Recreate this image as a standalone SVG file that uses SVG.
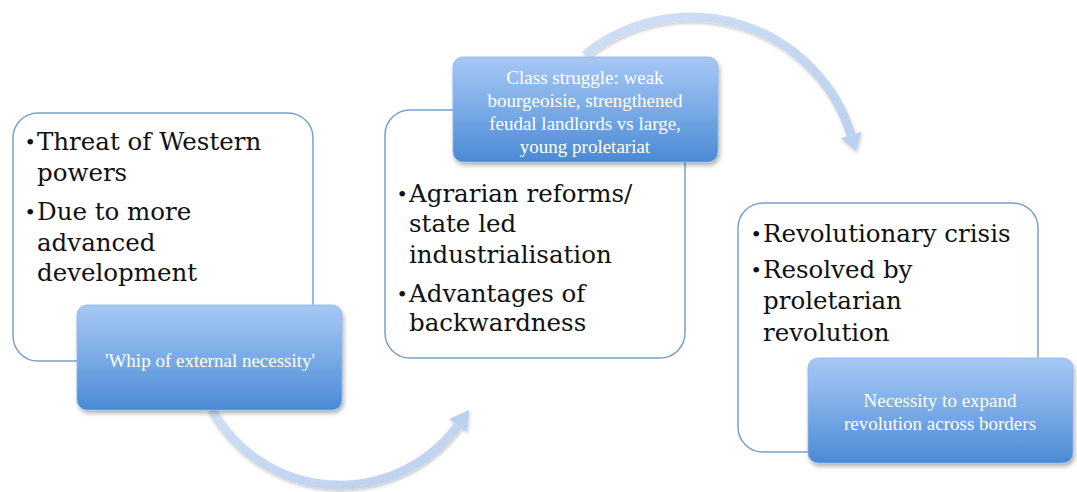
<svg xmlns="http://www.w3.org/2000/svg" width="1077" height="492" viewBox="0 0 1077 492">
<defs>
<linearGradient id="blueGrad" x1="0" y1="0" x2="0" y2="1">
<stop offset="0" stop-color="#a6c8f5"/>
<stop offset="0.5" stop-color="#7aabe7"/>
<stop offset="1" stop-color="#4a8ad4"/>
</linearGradient>
<linearGradient id="arrowGrad" x1="0" y1="0" x2="1" y2="1">
<stop offset="0" stop-color="#cfdff5"/>
<stop offset="1" stop-color="#bcd1ef"/>
</linearGradient>
<filter id="shadow" x="-10%" y="-10%" width="125%" height="135%">
<feDropShadow dx="1.5" dy="3" stdDeviation="2" flood-color="#000" flood-opacity="0.3"/>
</filter>
<filter id="ashadow" x="-10%" y="-10%" width="125%" height="135%">
<feDropShadow dx="1" dy="2" stdDeviation="1.5" flood-color="#000" flood-opacity="0.2"/>
</filter>
</defs>
<style>
.wbox{fill:#ffffff;stroke:#7a9fcc;stroke-width:1.5}
.bbox{fill:url(#blueGrad);stroke:#8db4ea;stroke-width:0.8;filter:url(#shadow)}
.main{font-family:"DejaVu Serif","Liberation Serif",serif;font-size:24.5px;fill:#111111}
.bul{font-family:"Liberation Serif","DejaVu Serif",serif;font-size:24px;fill:#111111}
.lbl{font-family:"Liberation Serif","DejaVu Serif",serif;font-size:19px;fill:#ffffff;text-anchor:middle}
.shaft{fill:none;stroke:url(#arrowGrad);stroke-width:9}
.head{fill:#bcd1ef}
</style>
<rect width="1077" height="492" fill="#ffffff"/>

<g id="connectors" filter="url(#ashadow)">
<path class="shaft" d="M212,410 A146.6,146.6 0 0 0 458,425.5"/>
<polygon class="head" points="449.1,419 469.2,410.1 466.9,432"/>
<path class="shaft" d="M585,55 A167.4,167.4 0 0 1 851,135"/>
<polygon class="head" points="840.5,138.2 861.5,131.8 856,151.2"/>
</g>

<g id="node1">
<rect class="wbox" x="13" y="113" width="300" height="248" rx="25"/>
<text class="bul" x="26" y="150">•</text>
<text class="bul" x="26" y="220">•</text>
<text class="main"><tspan x="37" y="150">Threat of Western</tspan><tspan x="37" y="181">powers</tspan><tspan x="37" y="220">Due to more</tspan><tspan x="37" y="251">advanced</tspan><tspan x="37" y="281">development</tspan></text>
</g>
<g id="label1">
<rect class="bbox" x="77" y="305" width="265" height="105" rx="10"/>
<text class="lbl" x="210" y="367">'Whip of external necessity'</text>
</g>

<g id="node2">
<rect class="wbox" x="385" y="110" width="300" height="248" rx="25"/>
<text class="bul" x="398" y="202">•</text>
<text class="bul" x="398" y="302">•</text>
<text class="main"><tspan x="409" y="202">Agrarian reforms/</tspan><tspan x="409" y="232">state led</tspan><tspan x="409" y="263">industrialisation</tspan><tspan x="409" y="302">Advantages of</tspan><tspan x="409" y="331">backwardness</tspan></text>
</g>
<g id="label2">
<rect class="bbox" x="453" y="57" width="265" height="105" rx="10"/>
<text class="lbl"><tspan x="585" y="84">Class struggle: weak</tspan><tspan x="585" y="107">bourgeoisie, strengthened</tspan><tspan x="585" y="130">feudal landlords vs large,</tspan><tspan x="585" y="153">young proletariat</tspan></text>
</g>

<g id="node3">
<rect class="wbox" x="738" y="203" width="300" height="249" rx="25"/>
<text class="bul" x="752" y="242">•</text>
<text class="bul" x="752" y="278">•</text>
<text class="main"><tspan x="763" y="242">Revolutionary crisis</tspan><tspan x="763" y="278">Resolved by</tspan><tspan x="763" y="309">proletarian</tspan><tspan x="763" y="341">revolution</tspan></text>
</g>
<g id="label3">
<rect class="bbox" x="808" y="358" width="265" height="105" rx="10"/>
<text class="lbl"><tspan x="940" y="407">Necessity to expand</tspan><tspan x="940" y="430">revolution across borders</tspan></text>
</g>
</svg>
